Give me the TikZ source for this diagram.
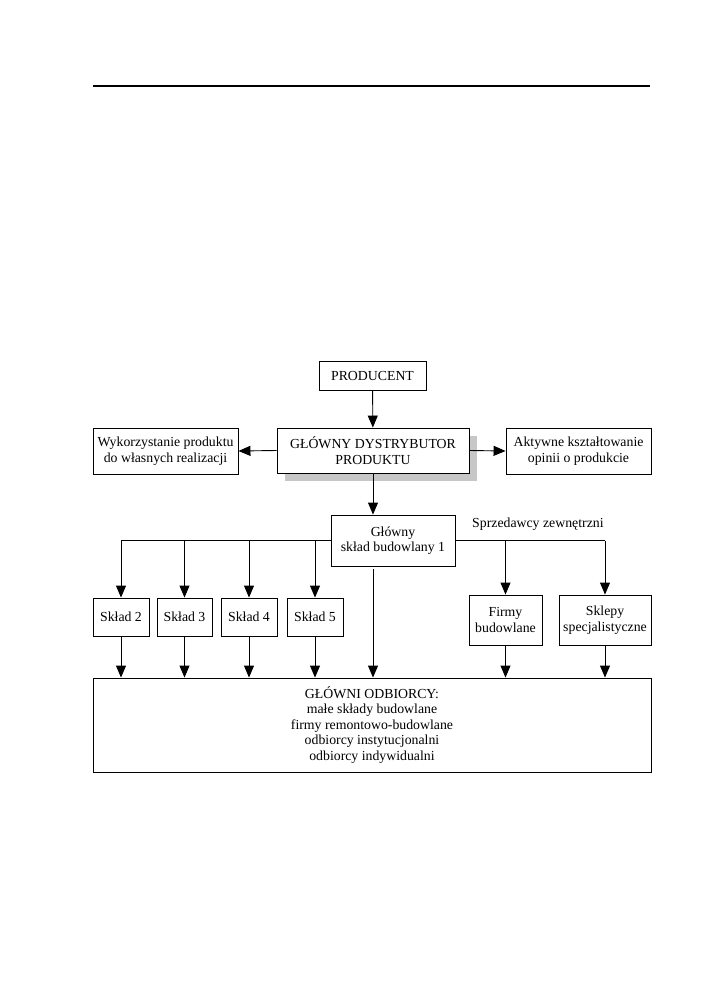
\documentclass[tikz,border=0pt]{standalone}
\usepackage{fontspec}
\setmainfont{Liberation Serif}
\usetikzlibrary{arrows.meta,positioning}

\begin{document}
\begin{tikzpicture}[x=1pt, y=-1pt,
    box/.style={draw, line width=0.9pt, fill=white, align=center, inner sep=2pt,
                font=\fontsize{13.8}{15.5}\selectfont},
    arr/.style={-{Triangle[length=12pt,width=10pt]}, line width=0.9pt},
    ln/.style={line width=0.9pt}]
    \useasboundingbox (0,0) rectangle (716,1008);

    % page rule
    \draw[line width=1.2pt] (93,86) -- (650,86);

    % top level
    \node[box, minimum width=107pt, minimum height=29pt] (prod) at (372.5,375.5) {PRODUCENT};
    \fill[black!22] (285,436) rectangle (477,481);
    \node[box, minimum width=192pt, minimum height=45pt] (dyst) at (373,450.5) {GŁÓWNY DYSTRYBUTOR\\PRODUKTU};
    \node[box, minimum width=145pt, minimum height=46pt] (wyk) at (165.5,451) {Wykorzystanie produktu\\do własnych realizacji};
    \node[box, minimum width=145pt, minimum height=46pt] (akt) at (578.5,451) {Aktywne kształtowanie\\opinii o produkcie};

    % warehouse level
    \node[box, minimum width=124pt, minimum height=51pt] (sklad1) at (393,540.5) {Główny\\skład budowlany 1};
    \node[box, minimum width=56pt, minimum height=38pt] (s2) at (121,617) {Skład 2};
    \node[box, minimum width=55pt, minimum height=38pt] (s3) at (184.5,617) {Skład 3};
    \node[box, minimum width=56pt, minimum height=38pt] (s4) at (249,617) {Skład 4};
    \node[box, minimum width=56pt, minimum height=38pt] (s5) at (315,617) {Skład 5};

    % outside sellers
    \node[anchor=west, inner sep=0pt, font=\fontsize{13.8}{15.5}\selectfont] (sprz) at (472,524) {Sprzedawcy zewnętrzni};
    \node[box, minimum width=73pt, minimum height=50pt] (firmy) at (505.5,620) {Firmy\\budowlane};
    \node[box, minimum width=92pt, minimum height=50pt] (sklepy) at (605,620) {Sklepy\\specjalistyczne};

    % customers
    \node[box, minimum width=558pt, minimum height=94pt] (odb) at (372,725)
        {GŁÓWNI ODBIORCY:\\małe składy budowlane\\firmy remontowo-budowlane\\odbiorcy instytucjonalni\\odbiorcy indywidualni};

    % connectors
    \draw[arr] (prod) -- (dyst);
    \draw[arr] (dyst.west) -- (wyk.east);
    \draw[arr] (dyst.east) -- (akt.west);
    \draw[arr] (dyst.south) -- (dyst.south |- sklad1.north);

    \draw[ln] (sklad1.west) -- (s2.north |- sklad1.west);
    \draw[ln] (sklad1.east) -- (sklepy.north |- sklad1.east);
    \foreach \n in {s2,s3,s4,s5,firmy,sklepy}
        \draw[arr] (\n.north |- sklad1.west) -- (\n.north);

    \draw[arr] ([yshift=-3pt]sklad1.south -| dyst.south) -- (dyst.south |- odb.north);
    \foreach \n in {s2,s3,s4,s5,firmy,sklepy}
        \draw[arr] (\n.south) -- (\n.south |- odb.north);
\end{tikzpicture}
\end{document}
